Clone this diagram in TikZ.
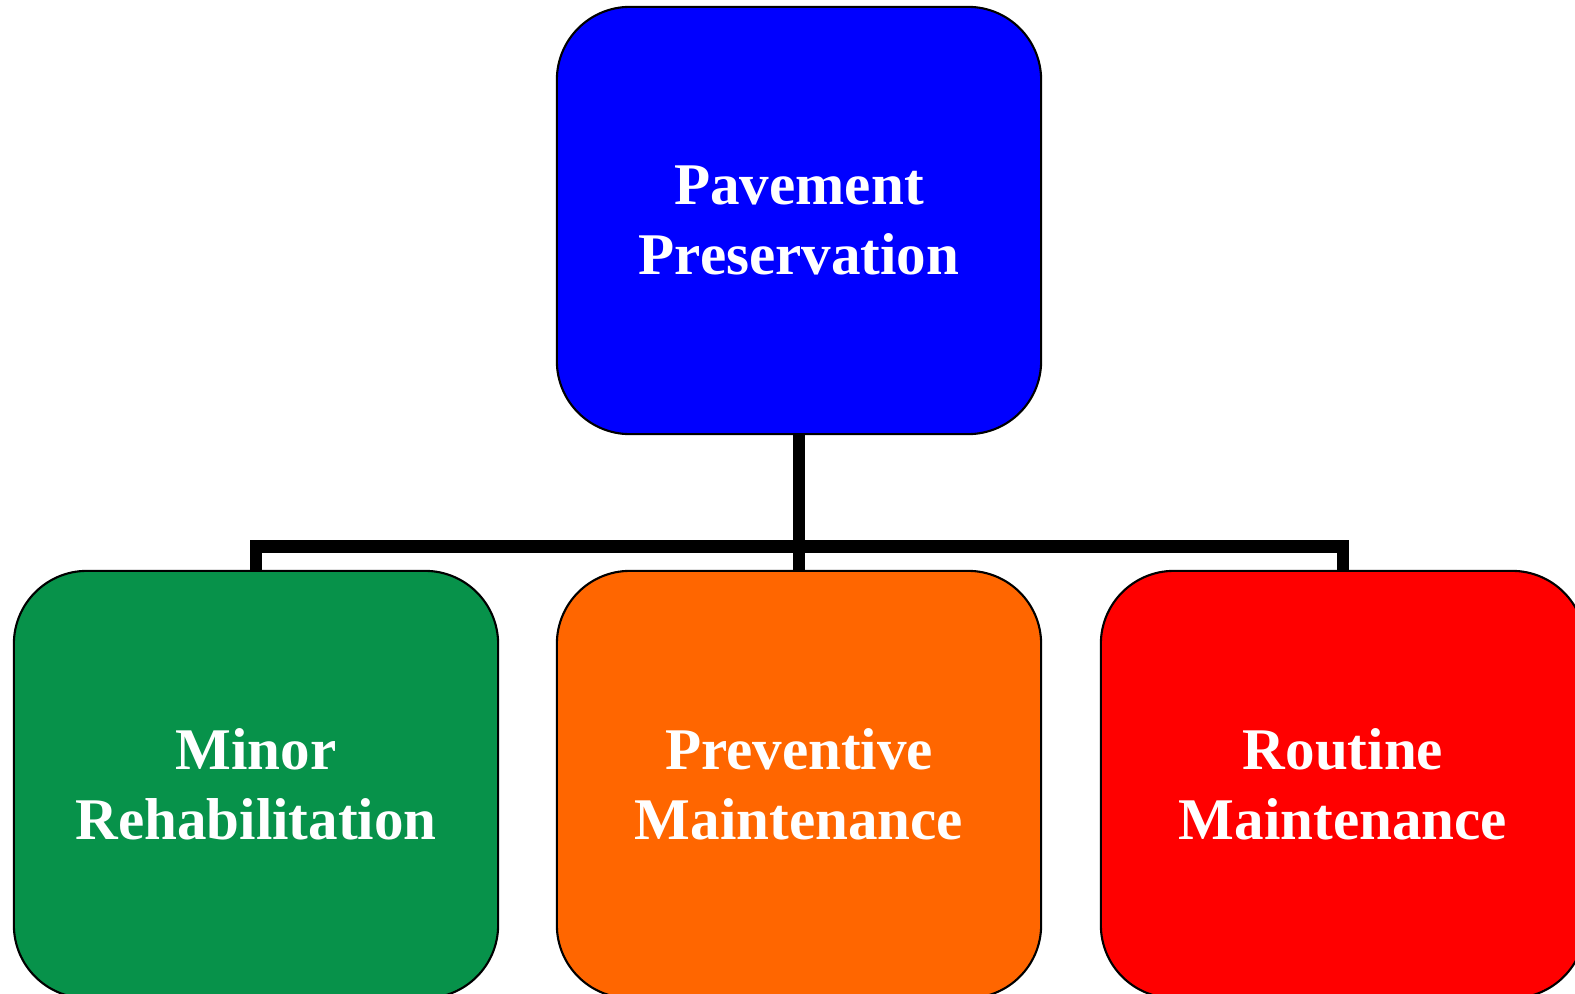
\documentclass[tikz,border=0pt]{standalone}
\usepackage{fontspec}
\setmainfont{Liberation Serif}
\usepackage{xcolor}
\definecolor{presblue}{HTML}{0000FF}
\definecolor{minorgreen}{HTML}{07924A}
\definecolor{prevorange}{HTML}{FF6600}
\definecolor{routred}{HTML}{FF0000}

\begin{document}
\begin{tikzpicture}[x=0.01cm,y=-0.01cm]
\tikzstyle{every node}+=[inner sep=0pt]
\tikzstyle{branch}=[draw=black, line width=0.6pt, rounded corners=0.73cm,
  minimum width=4.84cm, minimum height=4.27cm, align=center, text=white,
  font=\fontsize{16.8}{19.8}\selectfont\bfseries]
\tikzstyle{bus}=[draw=black, line width=0.12cm]
\useasboundingbox (0,0) rectangle (1575,994);

\node [branch, fill=presblue] (pres) at (799,220.5) {Pavement\\Preservation};

\node [branch, fill=minorgreen] (minor) at (256,784.5) {Minor\\Rehabilitation};
\node [branch, fill=prevorange] (prev) at (799,784.5) {Preventive\\Maintenance};
\node [branch, fill=routred] (rout) at (1343,784.5) {Routine\\Maintenance};

\coordinate (joint) at (799,546.5);
\draw [bus] (pres.south) -- (joint);
\draw [bus] (minor.north) |- (joint) -| (rout.north);
\draw [bus] (joint) -- (prev.north);
\end{tikzpicture}
\end{document}
